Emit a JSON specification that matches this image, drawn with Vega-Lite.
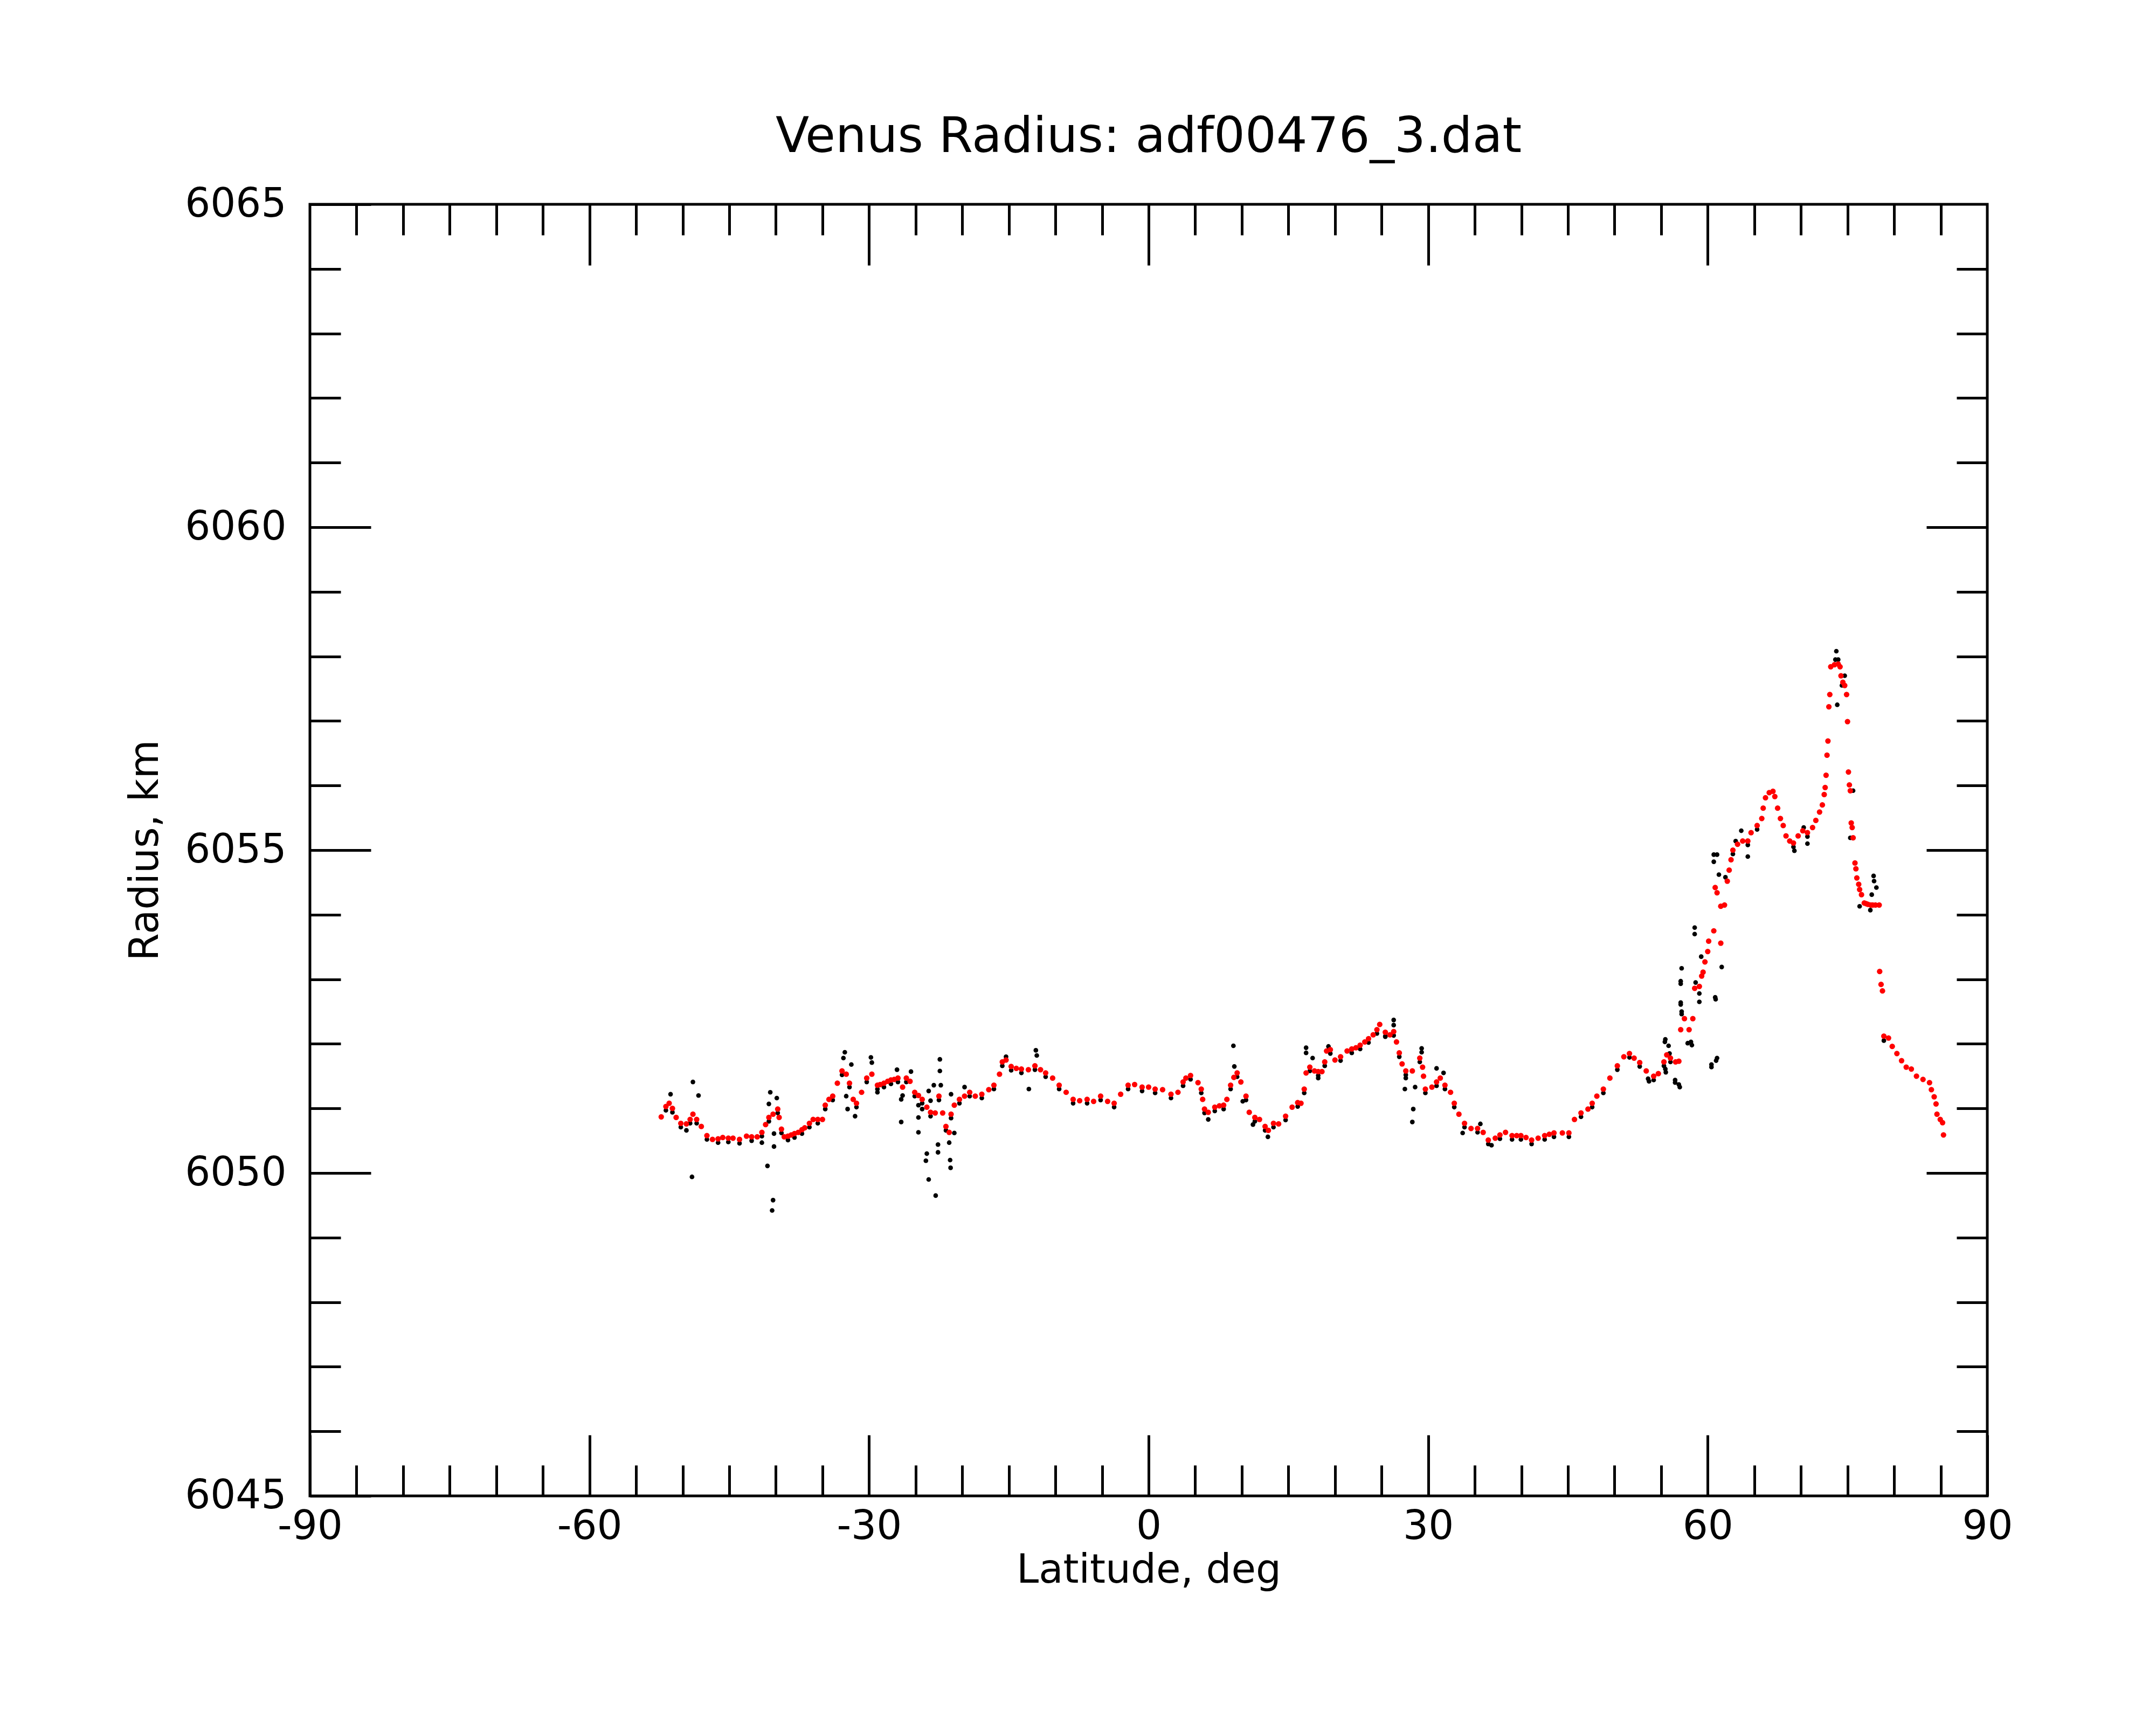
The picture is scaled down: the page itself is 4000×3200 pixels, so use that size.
{
  "$schema": "https://vega.github.io/schema/vega-lite/v6.json",
  "width": 3112,
  "height": 2396,
  "autosize": {"type": "none"},
  "padding": {"left": 575, "top": 379, "right": 313, "bottom": 425},
  "background": "white",
  "title": {"text": "Venus Radius: adf00476_3.dat", "font": "DejaVu Sans", "fontSize": 91, "fontWeight": "normal", "color": "black", "anchor": "middle", "baseline": "alphabetic", "offset": -31},
  "config": {
    "view": {"stroke": "black", "strokeWidth": 5},
    "axis": {"grid": false, "domain": false, "tickColor": "black", "tickWidth": 5, "labelColor": "black", "titleColor": "black", "labelFont": "DejaVu Sans", "titleFont": "DejaVu Sans", "labelFontSize": 74, "titleFontSize": 74, "titleFontWeight": "normal", "labelOverlap": false, "labelFlush": false, "labelLimit": 1000, "titleLimit": 2000}
  },
  "datasets": {
    "fit": [
      {"lat": -52.3, "r": 6050.87}, {"lat": -51.8, "r": 6051.03}, {"lat": -51.45, "r": 6051.08}, {"lat": -51.1, "r": 6051.0}, {"lat": -50.7, "r": 6050.86}, {"lat": -50.2, "r": 6050.77}, {"lat": -49.6, "r": 6050.76}, {"lat": -49.2, "r": 6050.83}, {"lat": -48.9, "r": 6050.91}, {"lat": -48.5, "r": 6050.83}, {"lat": -48.0, "r": 6050.72}, {"lat": -47.4, "r": 6050.58}, {"lat": -46.8, "r": 6050.52}, {"lat": -46.2, "r": 6050.53}, {"lat": -45.7, "r": 6050.55}, {"lat": -45.1, "r": 6050.54}, {"lat": -44.6, "r": 6050.54}, {"lat": -43.9, "r": 6050.52}, {"lat": -43.15, "r": 6050.57}, {"lat": -42.6, "r": 6050.56}, {"lat": -42.0, "r": 6050.56}, {"lat": -41.5, "r": 6050.63}, {"lat": -41.1, "r": 6050.75}, {"lat": -40.75, "r": 6050.86}, {"lat": -40.3, "r": 6050.91}, {"lat": -39.8, "r": 6050.99}, {"lat": -39.65, "r": 6050.86}, {"lat": -39.4, "r": 6050.68}, {"lat": -39.1, "r": 6050.56}, {"lat": -38.7, "r": 6050.57}, {"lat": -38.35, "r": 6050.59}, {"lat": -38.0, "r": 6050.61}, {"lat": -37.6, "r": 6050.63}, {"lat": -37.2, "r": 6050.67}, {"lat": -36.9, "r": 6050.7}, {"lat": -36.4, "r": 6050.77}, {"lat": -36.0, "r": 6050.83}, {"lat": -35.5, "r": 6050.83}, {"lat": -35.0, "r": 6050.83}, {"lat": -34.7, "r": 6051.05}, {"lat": -34.3, "r": 6051.14}, {"lat": -33.9, "r": 6051.19}, {"lat": -33.4, "r": 6051.39}, {"lat": -32.9, "r": 6051.58}, {"lat": -32.45, "r": 6051.53}, {"lat": -32.1, "r": 6051.39}, {"lat": -31.7, "r": 6051.14}, {"lat": -31.35, "r": 6051.08}, {"lat": -30.8, "r": 6051.25}, {"lat": -30.25, "r": 6051.47}, {"lat": -29.7, "r": 6051.53}, {"lat": -29.1, "r": 6051.36}, {"lat": -28.8, "r": 6051.37}, {"lat": -28.4, "r": 6051.39}, {"lat": -28.0, "r": 6051.42}, {"lat": -27.65, "r": 6051.44}, {"lat": -27.3, "r": 6051.45}, {"lat": -26.9, "r": 6051.47}, {"lat": -26.4, "r": 6051.33}, {"lat": -26.0, "r": 6051.47}, {"lat": -25.6, "r": 6051.42}, {"lat": -25.1, "r": 6051.25}, {"lat": -24.7, "r": 6051.2}, {"lat": -24.3, "r": 6051.14}, {"lat": -23.8, "r": 6051.02}, {"lat": -23.4, "r": 6050.94}, {"lat": -22.9, "r": 6050.93}, {"lat": -22.5, "r": 6051.19}, {"lat": -22.1, "r": 6050.93}, {"lat": -21.75, "r": 6050.72}, {"lat": -21.4, "r": 6050.63}, {"lat": -21.2, "r": 6050.91}, {"lat": -20.85, "r": 6051.05}, {"lat": -20.3, "r": 6051.14}, {"lat": -19.75, "r": 6051.19}, {"lat": -19.2, "r": 6051.25}, {"lat": -18.6, "r": 6051.19}, {"lat": -17.9, "r": 6051.22}, {"lat": -17.15, "r": 6051.29}, {"lat": -16.6, "r": 6051.36}, {"lat": -16.0, "r": 6051.53}, {"lat": -15.7, "r": 6051.72}, {"lat": -15.3, "r": 6051.75}, {"lat": -14.75, "r": 6051.65}, {"lat": -14.2, "r": 6051.62}, {"lat": -13.65, "r": 6051.61}, {"lat": -12.9, "r": 6051.6}, {"lat": -12.2, "r": 6051.66}, {"lat": -11.6, "r": 6051.6}, {"lat": -11.05, "r": 6051.55}, {"lat": -10.3, "r": 6051.47}, {"lat": -9.6, "r": 6051.36}, {"lat": -8.85, "r": 6051.25}, {"lat": -8.1, "r": 6051.14}, {"lat": -7.4, "r": 6051.12}, {"lat": -6.6, "r": 6051.14}, {"lat": -5.9, "r": 6051.11}, {"lat": -5.15, "r": 6051.19}, {"lat": -4.4, "r": 6051.11}, {"lat": -3.7, "r": 6051.08}, {"lat": -3.0, "r": 6051.22}, {"lat": -2.2, "r": 6051.36}, {"lat": -1.5, "r": 6051.37}, {"lat": -0.7, "r": 6051.33}, {"lat": 0.0, "r": 6051.33}, {"lat": 0.7, "r": 6051.3}, {"lat": 1.5, "r": 6051.29}, {"lat": 2.4, "r": 6051.22}, {"lat": 3.15, "r": 6051.25}, {"lat": 3.7, "r": 6051.41},
      {"lat": 4.0, "r": 6051.47}, {"lat": 4.5, "r": 6051.51}, {"lat": 5.3, "r": 6051.4}, {"lat": 5.65, "r": 6051.3}, {"lat": 5.8, "r": 6051.14}, {"lat": 6.0, "r": 6050.99}, {"lat": 6.4, "r": 6050.94}, {"lat": 7.1, "r": 6051.02}, {"lat": 7.6, "r": 6051.04}, {"lat": 8.05, "r": 6051.05}, {"lat": 8.4, "r": 6051.14}, {"lat": 8.8, "r": 6051.36}, {"lat": 9.15, "r": 6051.48}, {"lat": 9.5, "r": 6051.55}, {"lat": 9.9, "r": 6051.41}, {"lat": 10.45, "r": 6051.19}, {"lat": 10.8, "r": 6050.94}, {"lat": 11.4, "r": 6050.86}, {"lat": 11.9, "r": 6050.83}, {"lat": 12.5, "r": 6050.72}, {"lat": 12.85, "r": 6050.66}, {"lat": 13.4, "r": 6050.77}, {"lat": 13.95, "r": 6050.76}, {"lat": 14.7, "r": 6050.88}, {"lat": 15.4, "r": 6051.02}, {"lat": 16.0, "r": 6051.09}, {"lat": 16.35, "r": 6051.08}, {"lat": 16.7, "r": 6051.3}, {"lat": 16.9, "r": 6051.55}, {"lat": 17.3, "r": 6051.64}, {"lat": 17.8, "r": 6051.58}, {"lat": 18.2, "r": 6051.57}, {"lat": 18.6, "r": 6051.57}, {"lat": 18.9, "r": 6051.72}, {"lat": 19.1, "r": 6051.89}, {"lat": 19.5, "r": 6051.91}, {"lat": 20.0, "r": 6051.75}, {"lat": 20.6, "r": 6051.8}, {"lat": 21.3, "r": 6051.89}, {"lat": 21.8, "r": 6051.92}, {"lat": 22.25, "r": 6051.94}, {"lat": 22.7, "r": 6051.98}, {"lat": 23.2, "r": 6052.03}, {"lat": 23.6, "r": 6052.08}, {"lat": 24.1, "r": 6052.14}, {"lat": 24.5, "r": 6052.22}, {"lat": 24.8, "r": 6052.3}, {"lat": 25.4, "r": 6052.18}, {"lat": 25.9, "r": 6052.14}, {"lat": 26.3, "r": 6052.19}, {"lat": 26.6, "r": 6052.03}, {"lat": 26.9, "r": 6051.86}, {"lat": 27.2, "r": 6051.69}, {"lat": 27.6, "r": 6051.58}, {"lat": 28.3, "r": 6051.58}, {"lat": 29.1, "r": 6051.78}, {"lat": 29.4, "r": 6051.64}, {"lat": 29.5, "r": 6051.5}, {"lat": 29.7, "r": 6051.3}, {"lat": 30.4, "r": 6051.33}, {"lat": 30.9, "r": 6051.41}, {"lat": 31.3, "r": 6051.47}, {"lat": 31.8, "r": 6051.36}, {"lat": 32.4, "r": 6051.25}, {"lat": 32.8, "r": 6051.08}, {"lat": 33.3, "r": 6050.91}, {"lat": 33.9, "r": 6050.77}, {"lat": 34.6, "r": 6050.69}, {"lat": 35.3, "r": 6050.69}, {"lat": 35.9, "r": 6050.63}, {"lat": 36.45, "r": 6050.51}, {"lat": 37.2, "r": 6050.54}, {"lat": 37.7, "r": 6050.59}, {"lat": 38.3, "r": 6050.63}, {"lat": 39.0, "r": 6050.58}, {"lat": 39.5, "r": 6050.58}, {"lat": 39.95, "r": 6050.58}, {"lat": 40.5, "r": 6050.55}, {"lat": 41.1, "r": 6050.51}, {"lat": 41.8, "r": 6050.54}, {"lat": 42.5, "r": 6050.58}, {"lat": 43.0, "r": 6050.6}, {"lat": 43.5, "r": 6050.62}, {"lat": 44.4, "r": 6050.62}, {"lat": 45.1, "r": 6050.62}, {"lat": 45.7, "r": 6050.83}, {"lat": 46.4, "r": 6050.93}, {"lat": 47.15, "r": 6050.99}, {"lat": 47.6, "r": 6051.08}, {"lat": 48.1, "r": 6051.19}, {"lat": 48.8, "r": 6051.3}, {"lat": 49.5, "r": 6051.47}, {"lat": 50.3, "r": 6051.66}, {"lat": 51.0, "r": 6051.8}, {"lat": 51.6, "r": 6051.85}, {"lat": 52.1, "r": 6051.78}, {"lat": 52.7, "r": 6051.71}, {"lat": 53.4, "r": 6051.58}, {"lat": 54.2, "r": 6051.5}, {"lat": 54.7, "r": 6051.54}, {"lat": 55.3, "r": 6051.72}, {"lat": 55.6, "r": 6051.83}, {"lat": 56.0, "r": 6051.78}, {"lat": 56.55, "r": 6051.72}, {"lat": 56.9, "r": 6051.73}, {"lat": 57.1, "r": 6052.22}, {"lat": 57.5, "r": 6052.39}, {"lat": 58.0, "r": 6052.22}, {"lat": 58.4, "r": 6052.39}, {"lat": 58.6, "r": 6052.86}, {"lat": 59.1, "r": 6052.89}, {"lat": 59.35, "r": 6053.05}, {"lat": 59.5, "r": 6053.11},
      {"lat": 59.7, "r": 6053.27}, {"lat": 60.0, "r": 6053.43}, {"lat": 60.1, "r": 6053.59}, {"lat": 60.65, "r": 6053.75}, {"lat": 61.4, "r": 6053.56}, {"lat": 60.8, "r": 6054.42}, {"lat": 61.0, "r": 6054.34}, {"lat": 61.4, "r": 6054.13}, {"lat": 61.8, "r": 6054.15}, {"lat": 62.1, "r": 6054.52}, {"lat": 62.3, "r": 6054.69}, {"lat": 62.5, "r": 6054.85}, {"lat": 62.7, "r": 6055.0}, {"lat": 63.2, "r": 6055.09}, {"lat": 63.75, "r": 6055.14}, {"lat": 64.3, "r": 6055.14}, {"lat": 64.65, "r": 6055.27}, {"lat": 65.3, "r": 6055.38}, {"lat": 65.8, "r": 6055.49}, {"lat": 65.95, "r": 6055.65}, {"lat": 66.2, "r": 6055.81}, {"lat": 66.6, "r": 6055.89}, {"lat": 67.0, "r": 6055.91}, {"lat": 67.2, "r": 6055.83}, {"lat": 67.5, "r": 6055.65}, {"lat": 67.8, "r": 6055.49}, {"lat": 68.1, "r": 6055.38}, {"lat": 68.4, "r": 6055.22}, {"lat": 68.8, "r": 6055.14}, {"lat": 69.2, "r": 6055.11}, {"lat": 69.7, "r": 6055.22}, {"lat": 70.2, "r": 6055.3}, {"lat": 70.7, "r": 6055.27}, {"lat": 71.25, "r": 6055.35}, {"lat": 71.6, "r": 6055.46}, {"lat": 72.0, "r": 6055.59}, {"lat": 72.3, "r": 6055.7}, {"lat": 72.5, "r": 6055.86}, {"lat": 72.6, "r": 6055.97}, {"lat": 72.7, "r": 6056.16}, {"lat": 72.8, "r": 6056.47}, {"lat": 72.9, "r": 6056.69}, {"lat": 73.0, "r": 6057.22}, {"lat": 73.1, "r": 6057.41}, {"lat": 73.2, "r": 6057.84}, {"lat": 73.6, "r": 6057.87}, {"lat": 74.0, "r": 6057.88}, {"lat": 74.2, "r": 6057.84}, {"lat": 74.3, "r": 6057.7}, {"lat": 74.5, "r": 6057.6}, {"lat": 74.7, "r": 6057.55}, {"lat": 74.9, "r": 6057.41}, {"lat": 75.0, "r": 6056.99}, {"lat": 75.1, "r": 6056.21}, {"lat": 75.2, "r": 6056.01}, {"lat": 75.3, "r": 6055.92}, {"lat": 75.4, "r": 6055.42}, {"lat": 75.5, "r": 6055.35}, {"lat": 75.6, "r": 6055.19}, {"lat": 75.8, "r": 6054.8}, {"lat": 75.9, "r": 6054.71}, {"lat": 76.0, "r": 6054.57}, {"lat": 76.2, "r": 6054.47}, {"lat": 76.3, "r": 6054.39}, {"lat": 76.5, "r": 6054.31}, {"lat": 76.8, "r": 6054.18}, {"lat": 77.0, "r": 6054.17}, {"lat": 77.2, "r": 6054.16}, {"lat": 77.5, "r": 6054.15}, {"lat": 77.7, "r": 6054.15}, {"lat": 78.0, "r": 6054.15}, {"lat": 78.4, "r": 6054.15}, {"lat": 78.45, "r": 6053.12}, {"lat": 78.6, "r": 6052.92}, {"lat": 78.75, "r": 6052.82}, {"lat": 78.9, "r": 6052.12}, {"lat": 79.4, "r": 6052.09}, {"lat": 79.8, "r": 6051.96}, {"lat": 80.3, "r": 6051.85}, {"lat": 80.8, "r": 6051.74}, {"lat": 81.3, "r": 6051.64}, {"lat": 81.85, "r": 6051.61}, {"lat": 82.4, "r": 6051.5}, {"lat": 83.1, "r": 6051.45}, {"lat": 83.8, "r": 6051.4}, {"lat": 84.0, "r": 6051.29}, {"lat": 84.3, "r": 6051.18}, {"lat": 84.5, "r": 6051.07}, {"lat": 84.6, "r": 6050.91}, {"lat": 84.95, "r": 6050.83}, {"lat": 85.2, "r": 6050.78}, {"lat": 85.3, "r": 6050.59}
    ],
    "raw": [
      {"lat": -51.3, "r": 6051.22}, {"lat": -48.9, "r": 6051.41}, {"lat": -48.3, "r": 6051.2}, {"lat": -49.0, "r": 6049.94}, {"lat": -49.6, "r": 6050.66}, {"lat": -40.6, "r": 6051.25}, {"lat": -39.9, "r": 6051.16}, {"lat": -40.75, "r": 6051.07}, {"lat": -40.9, "r": 6050.11}, {"lat": -40.3, "r": 6049.58}, {"lat": -40.4, "r": 6049.42}, {"lat": -40.2, "r": 6050.41}, {"lat": -40.2, "r": 6050.61}, {"lat": -41.5, "r": 6050.47}, {"lat": -32.6, "r": 6051.87}, {"lat": -32.75, "r": 6051.78}, {"lat": -31.9, "r": 6051.68}, {"lat": -32.45, "r": 6051.19}, {"lat": -32.3, "r": 6050.99}, {"lat": -31.5, "r": 6050.88}, {"lat": -29.8, "r": 6051.79}, {"lat": -29.7, "r": 6051.71}, {"lat": -29.1, "r": 6051.25}, {"lat": -27.0, "r": 6051.6}, {"lat": -26.55, "r": 6051.14}, {"lat": -26.4, "r": 6051.2}, {"lat": -26.55, "r": 6050.79}, {"lat": -25.5, "r": 6051.57}, {"lat": -24.7, "r": 6051.05}, {"lat": -24.7, "r": 6050.86}, {"lat": -24.7, "r": 6050.63}, {"lat": -23.6, "r": 6051.27}, {"lat": -23.05, "r": 6051.36}, {"lat": -22.3, "r": 6051.36}, {"lat": -22.4, "r": 6051.76}, {"lat": -22.4, "r": 6051.58}, {"lat": -23.4, "r": 6051.12}, {"lat": -24.3, "r": 6050.99}, {"lat": -23.8, "r": 6050.3}, {"lat": -23.9, "r": 6050.19}, {"lat": -23.6, "r": 6049.9}, {"lat": -22.85, "r": 6049.65}, {"lat": -22.6, "r": 6050.44}, {"lat": -22.6, "r": 6050.32}, {"lat": -21.4, "r": 6050.47}, {"lat": -21.3, "r": 6050.2}, {"lat": -21.25, "r": 6050.08}, {"lat": -20.85, "r": 6050.62}, {"lat": -21.2, "r": 6051.22}, {"lat": -19.75, "r": 6051.33}, {"lat": -12.1, "r": 6051.9}, {"lat": -12.0, "r": 6051.82}, {"lat": -12.85, "r": 6051.3}, {"lat": -15.3, "r": 6051.8},
      {"lat": 9.1, "r": 6051.97}, {"lat": 9.2, "r": 6051.65}, {"lat": 10.1, "r": 6051.11}, {"lat": 6.4, "r": 6050.83}, {"lat": 11.2, "r": 6050.75}, {"lat": 12.8, "r": 6050.56}, {"lat": 16.9, "r": 6051.94}, {"lat": 16.9, "r": 6051.86}, {"lat": 17.6, "r": 6051.78}, {"lat": 18.2, "r": 6051.47}, {"lat": 19.3, "r": 6051.96}, {"lat": 26.3, "r": 6052.37}, {"lat": 26.3, "r": 6052.29}, {"lat": 25.4, "r": 6052.11}, {"lat": 27.6, "r": 6051.47}, {"lat": 27.5, "r": 6051.3}, {"lat": 28.6, "r": 6051.33}, {"lat": 28.4, "r": 6050.99}, {"lat": 28.3, "r": 6050.79}, {"lat": 29.3, "r": 6051.93}, {"lat": 29.3, "r": 6051.87}, {"lat": 30.9, "r": 6051.62}, {"lat": 31.65, "r": 6051.55}, {"lat": 33.7, "r": 6050.62}, {"lat": 35.6, "r": 6050.76}, {"lat": 36.8, "r": 6050.43},
      {"lat": 57.1, "r": 6052.97}, {"lat": 57.1, "r": 6052.64}, {"lat": 57.2, "r": 6052.5}, {"lat": 58.2, "r": 6052.03}, {"lat": 59.1, "r": 6052.78}, {"lat": 60.8, "r": 6052.72}, {"lat": 60.4, "r": 6051.68}, {"lat": 61.0, "r": 6051.78}, {"lat": 55.45, "r": 6052.07}, {"lat": 55.8, "r": 6051.97}, {"lat": 55.45, "r": 6051.61}, {"lat": 56.5, "r": 6051.44}, {"lat": 56.9, "r": 6051.37}, {"lat": 53.6, "r": 6051.46},
      {"lat": 73.8, "r": 6058.08}, {"lat": 73.7, "r": 6057.95}, {"lat": 74.0, "r": 6057.95}, {"lat": 73.9, "r": 6057.25}, {"lat": 74.7, "r": 6057.7}, {"lat": 74.4, "r": 6057.55}, {"lat": 75.6, "r": 6055.92}, {"lat": 75.3, "r": 6055.19}, {"lat": 77.8, "r": 6054.6}, {"lat": 77.85, "r": 6054.52}, {"lat": 78.1, "r": 6054.42}, {"lat": 77.6, "r": 6054.31}, {"lat": 77.45, "r": 6054.07}, {"lat": 76.3, "r": 6054.13}, {"lat": 78.9, "r": 6052.05}, {"lat": 60.65, "r": 6054.93}, {"lat": 61.0, "r": 6054.93}, {"lat": 60.65, "r": 6054.82}, {"lat": 61.2, "r": 6054.62}, {"lat": 61.9, "r": 6054.58}, {"lat": 63.6, "r": 6055.3}, {"lat": 63.0, "r": 6055.14}, {"lat": 64.3, "r": 6054.9}, {"lat": 69.3, "r": 6054.99}, {"lat": 70.3, "r": 6055.35}, {"lat": 70.7, "r": 6055.1}, {"lat": 58.6, "r": 6053.8}, {"lat": 58.6, "r": 6053.7}, {"lat": 57.2, "r": 6053.17}, {"lat": 57.1, "r": 6052.93}, {"lat": 57.1, "r": 6052.61}, {"lat": 57.2, "r": 6052.46}, {"lat": 57.85, "r": 6052.01}, {"lat": 58.3, "r": 6051.98}, {"lat": 58.7, "r": 6052.95}, {"lat": 59.3, "r": 6053.35}, {"lat": 59.1, "r": 6052.65}, {"lat": 60.85, "r": 6052.69}, {"lat": 61.5, "r": 6053.19}, {"lat": 60.4, "r": 6051.64}, {"lat": 60.9, "r": 6051.74}, {"lat": 55.4, "r": 6052.03}, {"lat": 55.9, "r": 6051.85}, {"lat": 55.5, "r": 6051.56}, {"lat": 56.5, "r": 6051.4}, {"lat": 57.0, "r": 6051.33}, {"lat": 53.7, "r": 6051.42},
      {"lat": -51.8, "r": 6050.97}, {"lat": -51.1, "r": 6050.94}, {"lat": -50.2, "r": 6050.71}, {"lat": -49.2, "r": 6050.77}, {"lat": -48.5, "r": 6050.77}, {"lat": -47.4, "r": 6050.52}, {"lat": -46.2, "r": 6050.47}, {"lat": -45.1, "r": 6050.48}, {"lat": -43.9, "r": 6050.46}, {"lat": -42.6, "r": 6050.5}, {"lat": -41.5, "r": 6050.57}, {"lat": -40.75, "r": 6050.8}, {"lat": -39.8, "r": 6050.93}, {"lat": -39.4, "r": 6050.62}, {"lat": -38.7, "r": 6050.51}, {"lat": -38.0, "r": 6050.55}, {"lat": -37.2, "r": 6050.61}, {"lat": -36.4, "r": 6050.71}, {"lat": -35.5, "r": 6050.77}, {"lat": -34.7, "r": 6050.99}, {"lat": -33.9, "r": 6051.13}, {"lat": -32.9, "r": 6051.52}, {"lat": -32.1, "r": 6051.33}, {"lat": -31.35, "r": 6051.02}, {"lat": -30.25, "r": 6051.41}, {"lat": -29.1, "r": 6051.3}, {"lat": -28.4, "r": 6051.33}, {"lat": -27.65, "r": 6051.38}, {"lat": -26.9, "r": 6051.41}, {"lat": -26.0, "r": 6051.41}, {"lat": -25.1, "r": 6051.19}, {"lat": -24.3, "r": 6051.08}, {"lat": -23.4, "r": 6050.88}, {"lat": -22.5, "r": 6051.13}, {"lat": -21.75, "r": 6050.66}, {"lat": -21.2, "r": 6050.85}, {"lat": -20.3, "r": 6051.08}, {"lat": -19.2, "r": 6051.19}, {"lat": -17.9, "r": 6051.16}, {"lat": -16.6, "r": 6051.3}, {"lat": -15.7, "r": 6051.66}, {"lat": -14.75, "r": 6051.59}, {"lat": -13.65, "r": 6051.55}, {"lat": -12.2, "r": 6051.6}, {"lat": -11.05, "r": 6051.49}, {"lat": -9.6, "r": 6051.3}, {"lat": -8.1, "r": 6051.08}, {"lat": -6.6, "r": 6051.08}, {"lat": -5.15, "r": 6051.13}, {"lat": -3.7, "r": 6051.02}, {"lat": -2.2, "r": 6051.3}, {"lat": -0.7, "r": 6051.27}, {"lat": 0.7, "r": 6051.24}, {"lat": 2.4, "r": 6051.16}, {"lat": 3.7, "r": 6051.35}, {"lat": 4.5, "r": 6051.45}, {"lat": 5.65, "r": 6051.24}, {"lat": 6.0, "r": 6050.93}, {"lat": 7.1, "r": 6050.96}, {"lat": 8.05, "r": 6050.99}, {"lat": 8.8, "r": 6051.3}, {"lat": 9.5, "r": 6051.49}, {"lat": 10.45, "r": 6051.13}, {"lat": 11.4, "r": 6050.8}, {"lat": 12.5, "r": 6050.66}, {"lat": 13.4, "r": 6050.71}, {"lat": 14.7, "r": 6050.82}, {"lat": 16.0, "r": 6051.03}, {"lat": 16.7, "r": 6051.24}, {"lat": 17.3, "r": 6051.58}, {"lat": 18.2, "r": 6051.51}, {"lat": 18.9, "r": 6051.66}, {"lat": 19.5, "r": 6051.85}, {"lat": 20.6, "r": 6051.74}, {"lat": 21.8, "r": 6051.86}, {"lat": 22.7, "r": 6051.92}, {"lat": 23.6, "r": 6052.02}, {"lat": 24.5, "r": 6052.16}, {"lat": 25.4, "r": 6052.12}, {"lat": 26.3, "r": 6052.13}, {"lat": 26.9, "r": 6051.8}, {"lat": 27.6, "r": 6051.52}, {"lat": 29.1, "r": 6051.72}, {"lat": 29.7, "r": 6051.24}, {"lat": 30.9, "r": 6051.35}, {"lat": 31.8, "r": 6051.3}, {"lat": 32.8, "r": 6051.02}, {"lat": 33.9, "r": 6050.71}, {"lat": 35.3, "r": 6050.63}, {"lat": 36.45, "r": 6050.45}, {"lat": 37.7, "r": 6050.53}, {"lat": 39.0, "r": 6050.52}, {"lat": 39.95, "r": 6050.52}, {"lat": 41.1, "r": 6050.45}, {"lat": 42.5, "r": 6050.52}, {"lat": 43.5, "r": 6050.56}, {"lat": 45.1, "r": 6050.56}, {"lat": 46.4, "r": 6050.87}, {"lat": 47.6, "r": 6051.02}, {"lat": 48.8, "r": 6051.24}, {"lat": 50.3, "r": 6051.6}, {"lat": 51.6, "r": 6051.79}, {"lat": 52.7, "r": 6051.65}, {"lat": 54.2, "r": 6051.44}, {"lat": 55.3, "r": 6051.66}, {"lat": 56.0, "r": 6051.72}, {"lat": 62.7, "r": 6054.94}, {"lat": 64.3, "r": 6055.08}, {"lat": 65.3, "r": 6055.32}, {"lat": 69.2, "r": 6055.05}, {"lat": 70.7, "r": 6055.21}
    ]
  },
  "resolve": {"axis": {"x": "independent", "y": "independent"}},
  "layer": [
    {
      "data": {"name": "raw"},
      "mark": {"type": "circle", "color": "black", "size": 75, "opacity": 1},
      "encoding": {
        "x": {"field": "lat", "type": "quantitative", "scale": {"domain": [-90, 90], "nice": false, "zero": false},
          "axis": {"orient": "bottom", "offset": -113, "tickSize": 113, "values": [-90, -60, -30, 0, 30, 60, 90], "labelExpr": "datum.value + ''", "labelPadding": 21, "title": "Latitude, deg", "titleBaseline": "alphabetic", "titleY": 273, "titleX": 1556, "titleAlign": "center"}},
        "y": {"field": "r", "type": "quantitative", "scale": {"domain": [6045, 6065], "nice": false, "zero": false},
          "axis": {"orient": "left", "offset": -113, "tickSize": 113, "values": [6045, 6050, 6055, 6060, 6065], "labelExpr": "datum.value + ''", "labelPadding": 44, "labelBaseline": "middle", "title": "Radius, km", "titleAngle": 270, "titleBaseline": "alphabetic", "titleAlign": "center", "titleX": -396, "titleY": 1198}}
      }
    },
    {
      "data": {"name": "fit"},
      "mark": {"type": "circle", "color": "#ff0000", "size": 105, "opacity": 1},
      "encoding": {
        "x": {"field": "lat", "type": "quantitative", "scale": {"domain": [-90, 90], "nice": false, "zero": false},
          "axis": {"orient": "bottom", "offset": -57, "tickSize": 57, "values": [-85, -80, -75, -70, -65, -55, -50, -45, -40, -35, -25, -20, -15, -10, -5, 5, 10, 15, 20, 25, 35, 40, 45, 50, 55, 65, 70, 75, 80, 85], "labels": false, "title": null}},
        "y": {"field": "r", "type": "quantitative", "scale": {"domain": [6045, 6065], "nice": false, "zero": false},
          "axis": {"orient": "left", "offset": -57, "tickSize": 57, "values": [6046, 6047, 6048, 6049, 6051, 6052, 6053, 6054, 6056, 6057, 6058, 6059, 6061, 6062, 6063, 6064], "labels": false, "title": null}}
      }
    },
    {
      "data": {"name": "fit"},
      "mark": {"type": "circle", "opacity": 0},
      "encoding": {
        "x": {"field": "lat", "type": "quantitative", "scale": {"domain": [-90, 90], "nice": false, "zero": false},
          "axis": {"orient": "top", "offset": -113, "tickSize": 113, "values": [-60, -30, 0, 30, 60], "labels": false, "title": null}},
        "y": {"field": "r", "type": "quantitative", "scale": {"domain": [6045, 6065], "nice": false, "zero": false},
          "axis": {"orient": "right", "offset": -113, "tickSize": 113, "values": [6050, 6055, 6060], "labels": false, "title": null}}
      }
    },
    {
      "data": {"name": "fit"},
      "mark": {"type": "circle", "opacity": 0},
      "encoding": {
        "x": {"field": "lat", "type": "quantitative", "scale": {"domain": [-90, 90], "nice": false, "zero": false},
          "axis": {"orient": "top", "offset": -57, "tickSize": 57, "values": [-85, -80, -75, -70, -65, -55, -50, -45, -40, -35, -25, -20, -15, -10, -5, 5, 10, 15, 20, 25, 35, 40, 45, 50, 55, 65, 70, 75, 80, 85], "labels": false, "title": null}},
        "y": {"field": "r", "type": "quantitative", "scale": {"domain": [6045, 6065], "nice": false, "zero": false},
          "axis": {"orient": "right", "offset": -57, "tickSize": 57, "values": [6046, 6047, 6048, 6049, 6051, 6052, 6053, 6054, 6056, 6057, 6058, 6059, 6061, 6062, 6063, 6064], "labels": false, "title": null}}
      }
    }
  ]
}
